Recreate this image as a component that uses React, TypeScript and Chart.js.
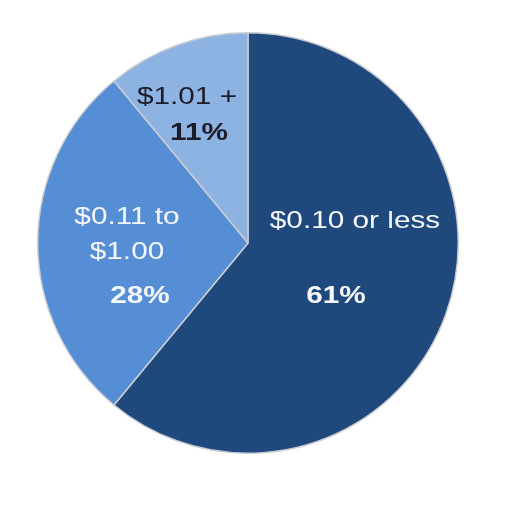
import { useEffect, useRef } from "react"
import { Chart, type ChartConfiguration, type Plugin, registerables } from "chart.js"

Chart.register(...registerables)

const categories = ["$0.10 or less", "$0.11 to $1.00", "$1.01 +"]
const categoryLines = [["$0.10 or less"], ["$0.11 to", "$1.00"], ["$1.01 +"]]
const shares = [61, 28, 11]

const sliceColors = ["#1f497d", "#558ed5", "#8db3e2"]
const textColors = ["#f4f6fa", "#f4f6fa", "#1c1c28"]

// offsets from the pie centre: name lines, then the bold percentage
const nameOffsets = [
  [[107, -22]],
  [[-121, -26], [-121, 9]],
  [[-61, -146]],
]
const percentOffsets = [
  [88, 53],
  [-108, 53],
  [-49, -110],
]

const sliceLabels: Plugin<"pie"> = {
  id: "sliceLabels",
  afterDatasetsDraw(chart) {
    const { ctx } = chart
    const arcs = chart.getDatasetMeta(0).data
    const draw = (text: string, x: number, y: number, bold: boolean) => {
      ctx.font = `${bold ? "bold " : ""}24px "Liberation Sans", Arial, sans-serif`
      ctx.save()
      ctx.translate(x, y)
      ctx.scale(1.24, 1)
      ctx.fillText(text, 0, 0)
      ctx.restore()
    }
    ctx.save()
    ctx.textAlign = "center"
    ctx.textBaseline = "middle"
    arcs.forEach((arc, i) => {
      const { x, y } = arc as unknown as { x: number; y: number }
      ctx.fillStyle = textColors[i]
      categoryLines[i].forEach((line, j) => {
        draw(line, x + nameOffsets[i][j][0], y + nameOffsets[i][j][1], false)
      })
      const total = shares.reduce((a, b) => a + b, 0)
      const pct = `${Math.round((shares[i] / total) * 100)}%`
      draw(pct, x + percentOffsets[i][0], y + percentOffsets[i][1], true)
    })
    ctx.restore()
  },
}

function PieChart() {
  const chartRef = useRef<HTMLCanvasElement>(null)
  const chartInstance = useRef<Chart<"pie"> | null>(null)

  useEffect(() => {
    if (!chartRef.current) return
    const ctx = chartRef.current.getContext("2d")
    if (!ctx) return

    if (chartInstance.current) {
      chartInstance.current.destroy()
    }

    const config: ChartConfiguration<"pie"> = {
      type: "pie",
      data: {
        labels: categories,
        datasets: [
          {
            data: shares,
            backgroundColor: sliceColors,
            borderColor: "#c9ccd2",
            borderWidth: 1.5,
          },
        ],
      },
      options: {
        responsive: true,
        maintainAspectRatio: false,
        animation: false,
        layout: {
          padding: { left: 37, right: 53, top: 32, bottom: 58 },
        },
        plugins: {
          legend: { display: false },
          tooltip: { enabled: false },
        },
      },
      plugins: [sliceLabels],
    }

    chartInstance.current = new Chart(ctx, config)

    return () => {
      if (chartInstance.current) {
        chartInstance.current.destroy()
        chartInstance.current = null
      }
    }
  }, [])

  return (
    <div style={{ position: "absolute", left: 0, top: 0, width: 512, height: 512, background: "#ffffff" }}>
      <canvas ref={chartRef} />
    </div>
  )
}

export default function App() {
  return <PieChart />
}
